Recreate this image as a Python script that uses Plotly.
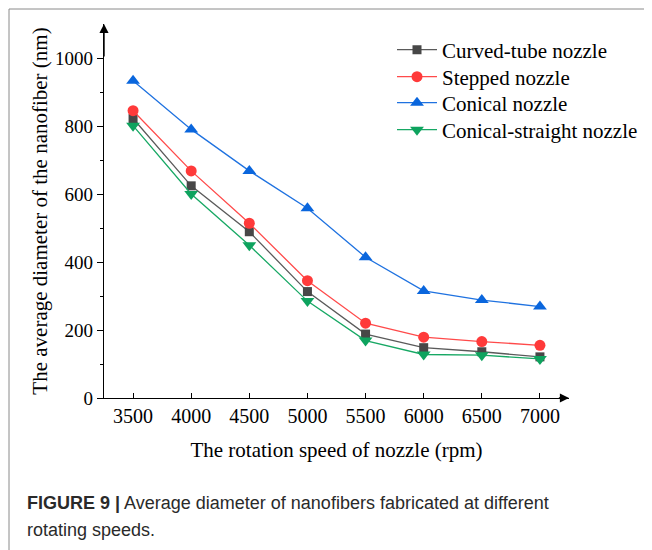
import plotly.graph_objects as go

speeds = [3500, 4000, 4500, 5000, 5500, 6000, 6500, 7000]
curved_tube = [822, 624, 489, 313, 188, 148, 136, 121]
stepped = [845, 668, 514, 345, 220, 179, 166, 155]
conical = [933, 790, 668, 558, 414, 315, 288, 269]
conical_straight = [801, 600, 449, 285, 169, 128, 126, 115]

series_names = ["Curved-tube nozzle", "Stepped nozzle", "Conical nozzle", "Conical-straight nozzle"]
series_values = [curved_tube, stepped, conical, conical_straight]
line_colors = ["#5a5a5a", "#ff4a4a", "#1f72e0", "#17a864"]
marker_colors = ["#474747", "#ff3a3a", "#0a66dd", "#0ea35e"]
symbols = ["square", "circle", "triangle-up", "triangle-down"]
sizes = [9, 11, 12, 12]
legend_ids = ["legend", "legend2", "legend3", "legend4"]
legend_rows = [50, 77, 103, 130]  # vertical pixel centres of legend entries

x_ticks = [3500, 4000, 4500, 5000, 5500, 6000, 6500, 7000]
y_ticks = [0, 200, 400, 600, 800, 1000]
y_minor = [100, 300, 500, 700, 900]

SERIF = "Liberation Serif"
SANS = "Liberation Sans"

fig = go.Figure()
for name, vals, lc, mc, sym, sz, lg in zip(series_names, series_values, line_colors, marker_colors,
                                          symbols, sizes, legend_ids):
    fig.add_trace(go.Scatter(
        x=speeds, y=vals, name=name, mode="lines+markers", legend=lg,
        line=dict(color=lc, width=1.3),
        marker=dict(symbol=sym, size=sz, color=mc, line=dict(width=0)),
    ))

OFF = 8  # page body margin
W, H = 652 - OFF, 550 - OFF
L, T = 104 - OFF, 24 - OFF
R = W - (569 - OFF)
B = H - (398 - OFF)
pw, ph = W - L - R, H - T - B

def px(xa):
    return (xa - OFF - L) / pw

def py(ya):
    return (H - B - (ya - OFF)) / ph

legend_layout = {}
for lg, row in zip(legend_ids, legend_rows):
    legend_layout[lg] = dict(
        x=px(392), y=py(row), xanchor="left", yanchor="middle",
        font=dict(family=SERIF, size=21, color="black"),
        bgcolor="rgba(0,0,0,0)", borderwidth=0, itemwidth=40,
    )

fig.update_layout(
    width=W, height=H,
    margin=dict(l=L, r=R, t=T, b=B, autoexpand=False),
    plot_bgcolor="white", paper_bgcolor="white",
    font=dict(family=SERIF, size=18, color="black"),
    showlegend=True,
    **legend_layout,
    xaxis=dict(
        range=[3250, 7250], tickmode="array", tickvals=x_ticks, ticktext=[str(v) for v in x_ticks],
        ticks="inside", ticklen=5, tickwidth=1, tickcolor="black",
        showline=True, linecolor="black", linewidth=1.3,
        showgrid=False, zeroline=False,
        tickfont=dict(family=SERIF, size=20, color="black"),
        title=dict(text="The rotation speed of nozzle (rpm)", font=dict(family=SERIF, size=21), standoff=16),
    ),
    yaxis=dict(
        range=[0, 1100], tickmode="array", tickvals=y_ticks, ticktext=[str(v) for v in y_ticks],
        ticks="outside", ticklen=6, tickwidth=1, tickcolor="black",
        minor=dict(tickvals=y_minor, ticks="outside", ticklen=3, tickcolor="black", tickwidth=1),
        showline=True, linecolor="black", linewidth=1.3,
        showgrid=False, zeroline=False,
        tickfont=dict(family=SERIF, size=19, color="black"),
        title=dict(text="The average diameter of the nanofiber (nm)", font=dict(family=SERIF, size=21), standoff=1),
    ),
)

# axis arrowheads
fig.add_annotation(x=7250, y=0, ax=7150, ay=0, xref="x", yref="y", axref="x", ayref="y",
                   showarrow=True, arrowhead=2, arrowsize=1.3, arrowwidth=1.4, arrowcolor="black", text="",
                   standoff=0)
fig.add_annotation(x=3250, y=1100, ax=3250, ay=1000, xref="x", yref="y", axref="x", ayref="y",
                   showarrow=True, arrowhead=2, arrowsize=1.3, arrowwidth=1.4, arrowcolor="black", text="",
                   standoff=0)

# outer frame (top and left edges)
fig.add_shape(type="line", xref="paper", yref="paper", x0=px(9), x1=px(660), y0=py(9), y1=py(9),
              line=dict(color="#8a8a8a", width=1))
fig.add_shape(type="line", xref="paper", yref="paper", x0=px(9), x1=px(9), y0=py(9), y1=py(560),
              line=dict(color="#8a8a8a", width=1))

# caption
fig.add_annotation(x=px(25), y=py(503), xref="paper", yref="paper", xanchor="left", yanchor="middle",
                   showarrow=False, align="left",
                   text="<b>FIGURE 9 |</b> Average diameter of nanofibers fabricated at different",
                   font=dict(family=SANS, size=18, color="#2a2a2a"))
fig.add_annotation(x=px(25), y=py(530), xref="paper", yref="paper", xanchor="left", yanchor="middle",
                   showarrow=False, align="left",
                   text="rotating speeds.",
                   font=dict(family=SANS, size=18, color="#2a2a2a"))

fig.write_html("out.html")
